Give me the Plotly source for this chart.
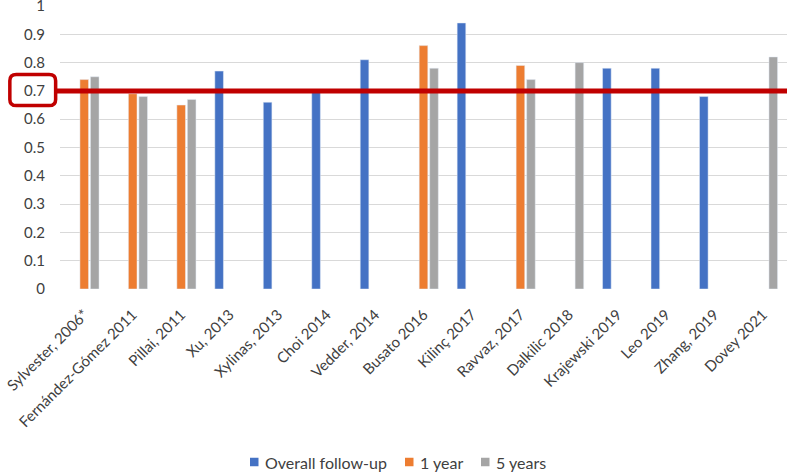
import plotly.graph_objects as go

categories = ["Sylvester, 2006*", "Fernández-Gómez 2011", "Pillai, 2011", "Xu, 2013",
              "Xylinas, 2013", "Choi 2014", "Vedder, 2014", "Busato 2016", "Kilinç 2017",
              "Ravvaz, 2017", "Dalkilic 2018", "Krajewski 2019", "Leo 2019", "Zhang, 2019",
              "Dovey 2021"]
overall = [None, None, None, 0.77, 0.66, 0.70, 0.81, None, 0.94, None, None, 0.78, 0.78, 0.68, None]
one_year = [0.74, 0.69, 0.65, None, None, None, None, 0.86, None, 0.79, None, None, None, None, None]
five_years = [0.75, 0.68, 0.67, None, None, None, None, 0.78, None, 0.74, 0.80, None, None, None, 0.82]
y_ticks = [0, 0.1, 0.2, 0.3, 0.4, 0.5, 0.6, 0.7, 0.8, 0.9, 1]
threshold = 0.7

series_names = ["Overall follow-up", "1 year", "5 years"]
series_colors = ["#4472C4", "#ED7D31", "#A5A5A5"]

FONT = "Lato"
TXT = "#404040"
W, H = 787, 472
ML, MR, MT, MB = 60, 0, 6, 183
PW, PH = W - ML - MR, H - MT - MB

fig = go.Figure()
for name, vals, col in zip(series_names, [overall, one_year, five_years], series_colors):
    fig.add_bar(x=categories, y=vals, name=name, marker_color=col, showlegend=False)

# red threshold line
fig.add_shape(type="line", xref="paper", yref="y", x0=-0.006, x1=1, y0=threshold, y1=threshold,
              line=dict(color="#C00000", width=5), layer="above")

# rounded box around the 0.7 label
x0, x1 = -0.069, -0.006
y0, y1 = threshold - 0.052, threshold + 0.058
rx, ry = 0.009, 0.022
path = (f"M {x0+rx},{y0} L {x1-rx},{y0} Q {x1},{y0} {x1},{y0+ry} "
        f"L {x1},{y1-ry} Q {x1},{y1} {x1-rx},{y1} L {x0+rx},{y1} Q {x0},{y1} {x0},{y1-ry} "
        f"L {x0},{y0+ry} Q {x0},{y0} {x0+rx},{y0} Z")
fig.add_shape(type="path", xref="paper", yref="y", path=path,
              line=dict(color="#C00000", width=3.5), layer="above")

# custom legend (square + label), pixel positions converted to paper coords
def px_x(p):
    return (p - ML) / PW

def px_y(p):
    return (H - MB - p) / PH

legend_sq_x = [250, 405, 481]
legend_cy = 462
sq = 8.5
for name, col, sx in zip(series_names, series_colors, legend_sq_x):
    fig.add_shape(type="rect", xref="paper", yref="paper",
                  x0=px_x(sx), x1=px_x(sx + sq), y0=px_y(legend_cy + sq / 2), y1=px_y(legend_cy - sq / 2),
                  fillcolor=col, line=dict(width=0))
    fig.add_annotation(xref="paper", yref="paper", x=px_x(sx + sq + 4), y=px_y(legend_cy),
                       text=name, showarrow=False, xanchor="left", yanchor="middle",
                       font=dict(family=FONT, size=16, color=TXT))

fig.update_layout(
    width=W, height=H,
    margin=dict(l=ML, r=MR, t=MT, b=MB),
    paper_bgcolor="white", plot_bgcolor="white",
    barmode="group", bargap=0.35, bargroupgap=0.18,
    font=dict(family=FONT, size=16, color=TXT),
    showlegend=False,
    xaxis=dict(tickangle=-45, tickfont=dict(family=FONT, size=15, color=TXT),
               showgrid=False, showline=False, ticks="", automargin=False,
               ticklabelstandoff=13),
    yaxis=dict(range=[0, 1], tickvals=y_ticks, ticktext=[f"{v:g}" for v in y_ticks],
               gridcolor="#D9D9D9", gridwidth=1, zeroline=False, showline=False,
               ticks="", ticklabelstandoff=14, automargin=False, ticklabeloverflow="allow",
               tickfont=dict(size=15, color=TXT)),
)

fig.write_html("out.html", config={"displayModeBar": False},
               post_script="document.body.style.margin='0';document.body.style.overflow='hidden';")
